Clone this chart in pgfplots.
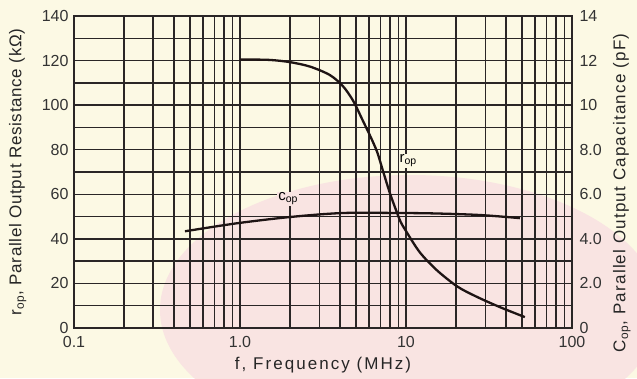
\documentclass[border=0pt]{standalone}
\usepackage{pgfplots}
\pgfplotsset{compat=1.18}
\usepackage{fontspec}
\setmainfont{Liberation Sans}
\newfontfamily\lsL[LetterSpace=4]{Liberation Sans}
\newfontfamily\lsR[LetterSpace=7]{Liberation Sans}
\newfontfamily\lsX[LetterSpace=12]{Liberation Sans}
\definecolor{bg}{HTML}{FCF9E4}
\definecolor{pinkbg}{HTML}{F9E4E2}
\definecolor{gridc}{HTML}{2A2626}
\definecolor{curvec}{HTML}{1E1414}
\begin{document}
\begin{tikzpicture}[x=1pt,y=1pt]
\useasboundingbox[fill=bg] (-74,-50) rectangle (563,328);
\fill[pinkbg] (336,18) ellipse [x radius=250, y radius=135];
\begin{axis}[
  at={(0,0)}, anchor=south west,
  scale only axis, width=498pt, height=312pt,
  xmode=log, xmin=0.1, xmax=100,
  /pgf/number format/assume math mode=true,
  tick label style={font=\fontsize{16}{18}\selectfont, text=black!80},
  xticklabel style={yshift=-5pt},
  yticklabel style={xshift=-2pt},
  tick style={draw=none},
  ymin=0, ymax=140,
  xtick={0.1,1,10,100}, xticklabels={0.1,1.0,10,100},
  minor xtick={0.2,0.3,0.4,0.5,0.6,0.7,0.8,0.9,2,3,4,5,6,7,8,9,20,30,40,50,60,70,80,90},
  ytick={0,20,40,60,80,100,120,140},
  minor ytick={10,30,50,70,90,110,130},
  grid=both,
  major grid style={gridc, line width=1.4pt},
  minor grid style={gridc, line width=1.4pt},
  axis line style={gridc, line width=1.4pt},
  xlabel={\lsX f, Frequency (MHz)},
  ylabel={\lsL r\textsubscript{op}, Parallel Output Resistance (kΩ)},
  ylabel style={at={(axis description cs:-0.113,0.5)}, anchor=center, font=\fontsize{17}{19}\selectfont, text=black!85},
  xlabel style={at={(axis description cs:0.5,-0.118)}, anchor=center, font=\fontsize{17}{19}\selectfont, text=black!85},
]
\addplot[curvec, line width=2.3pt, smooth] coordinates {
(1.0,120.5) (1.5,120.3) (2.0,119.3) (2.64,117.3) (3.48,113.5) (4.17,108.5)
(4.8,102) (5.5,93) (6.1,86) (6.7,79) (7.3,70) (8.0,60.5) (8.8,52) (9.3,47.5)
(10,43.5) (12.1,34) (15.3,26) (20.4,18.6) (26.7,14) (36.7,9.4) (52,4.9)
};
\node[fill=bg, inner sep=1pt, font=\fontsize{15}{17}\selectfont] at (axis cs:10.3,75) {r\textsubscript{op}};
\node[fill=pinkbg, inner sep=1pt, font=\fontsize{15}{17}\selectfont] at (axis cs:1.95,58) {c\textsubscript{op}};
\end{axis}
\begin{axis}[
  at={(0,0)}, anchor=south west,
  scale only axis, width=498pt, height=312pt,
  xmode=log, xmin=0.1, xmax=100,
  /pgf/number format/assume math mode=true,
  tick label style={font=\fontsize{16}{18}\selectfont, text=black!80},
  yticklabel style={xshift=4pt},
  tick style={draw=none},
  ymin=0, ymax=14,
  axis x line=none, axis y line*=right,
  axis line style={gridc, line width=1.4pt},
  ytick={0,2,4,6,8,10,12,14},
  yticklabels={0,2.0,4.0,6.0,8.0,10,12,14},
  ylabel={\lsR C\textsubscript{op}, Parallel Output Capacitance (pF)},
  ylabel style={at={(axis description cs:1.10,0.433)}, anchor=center, font=\fontsize{17}{19}\selectfont, text=black!85},
]
\addplot[curvec, line width=2.3pt, smooth] coordinates {
(0.466,4.34) (0.96,4.7) (2.0,4.98) (4.17,5.16) (9.2,5.16) (15,5.14) (27.9,5.07) (48.6,4.93)
};
\end{axis}
\end{tikzpicture}
\end{document}
